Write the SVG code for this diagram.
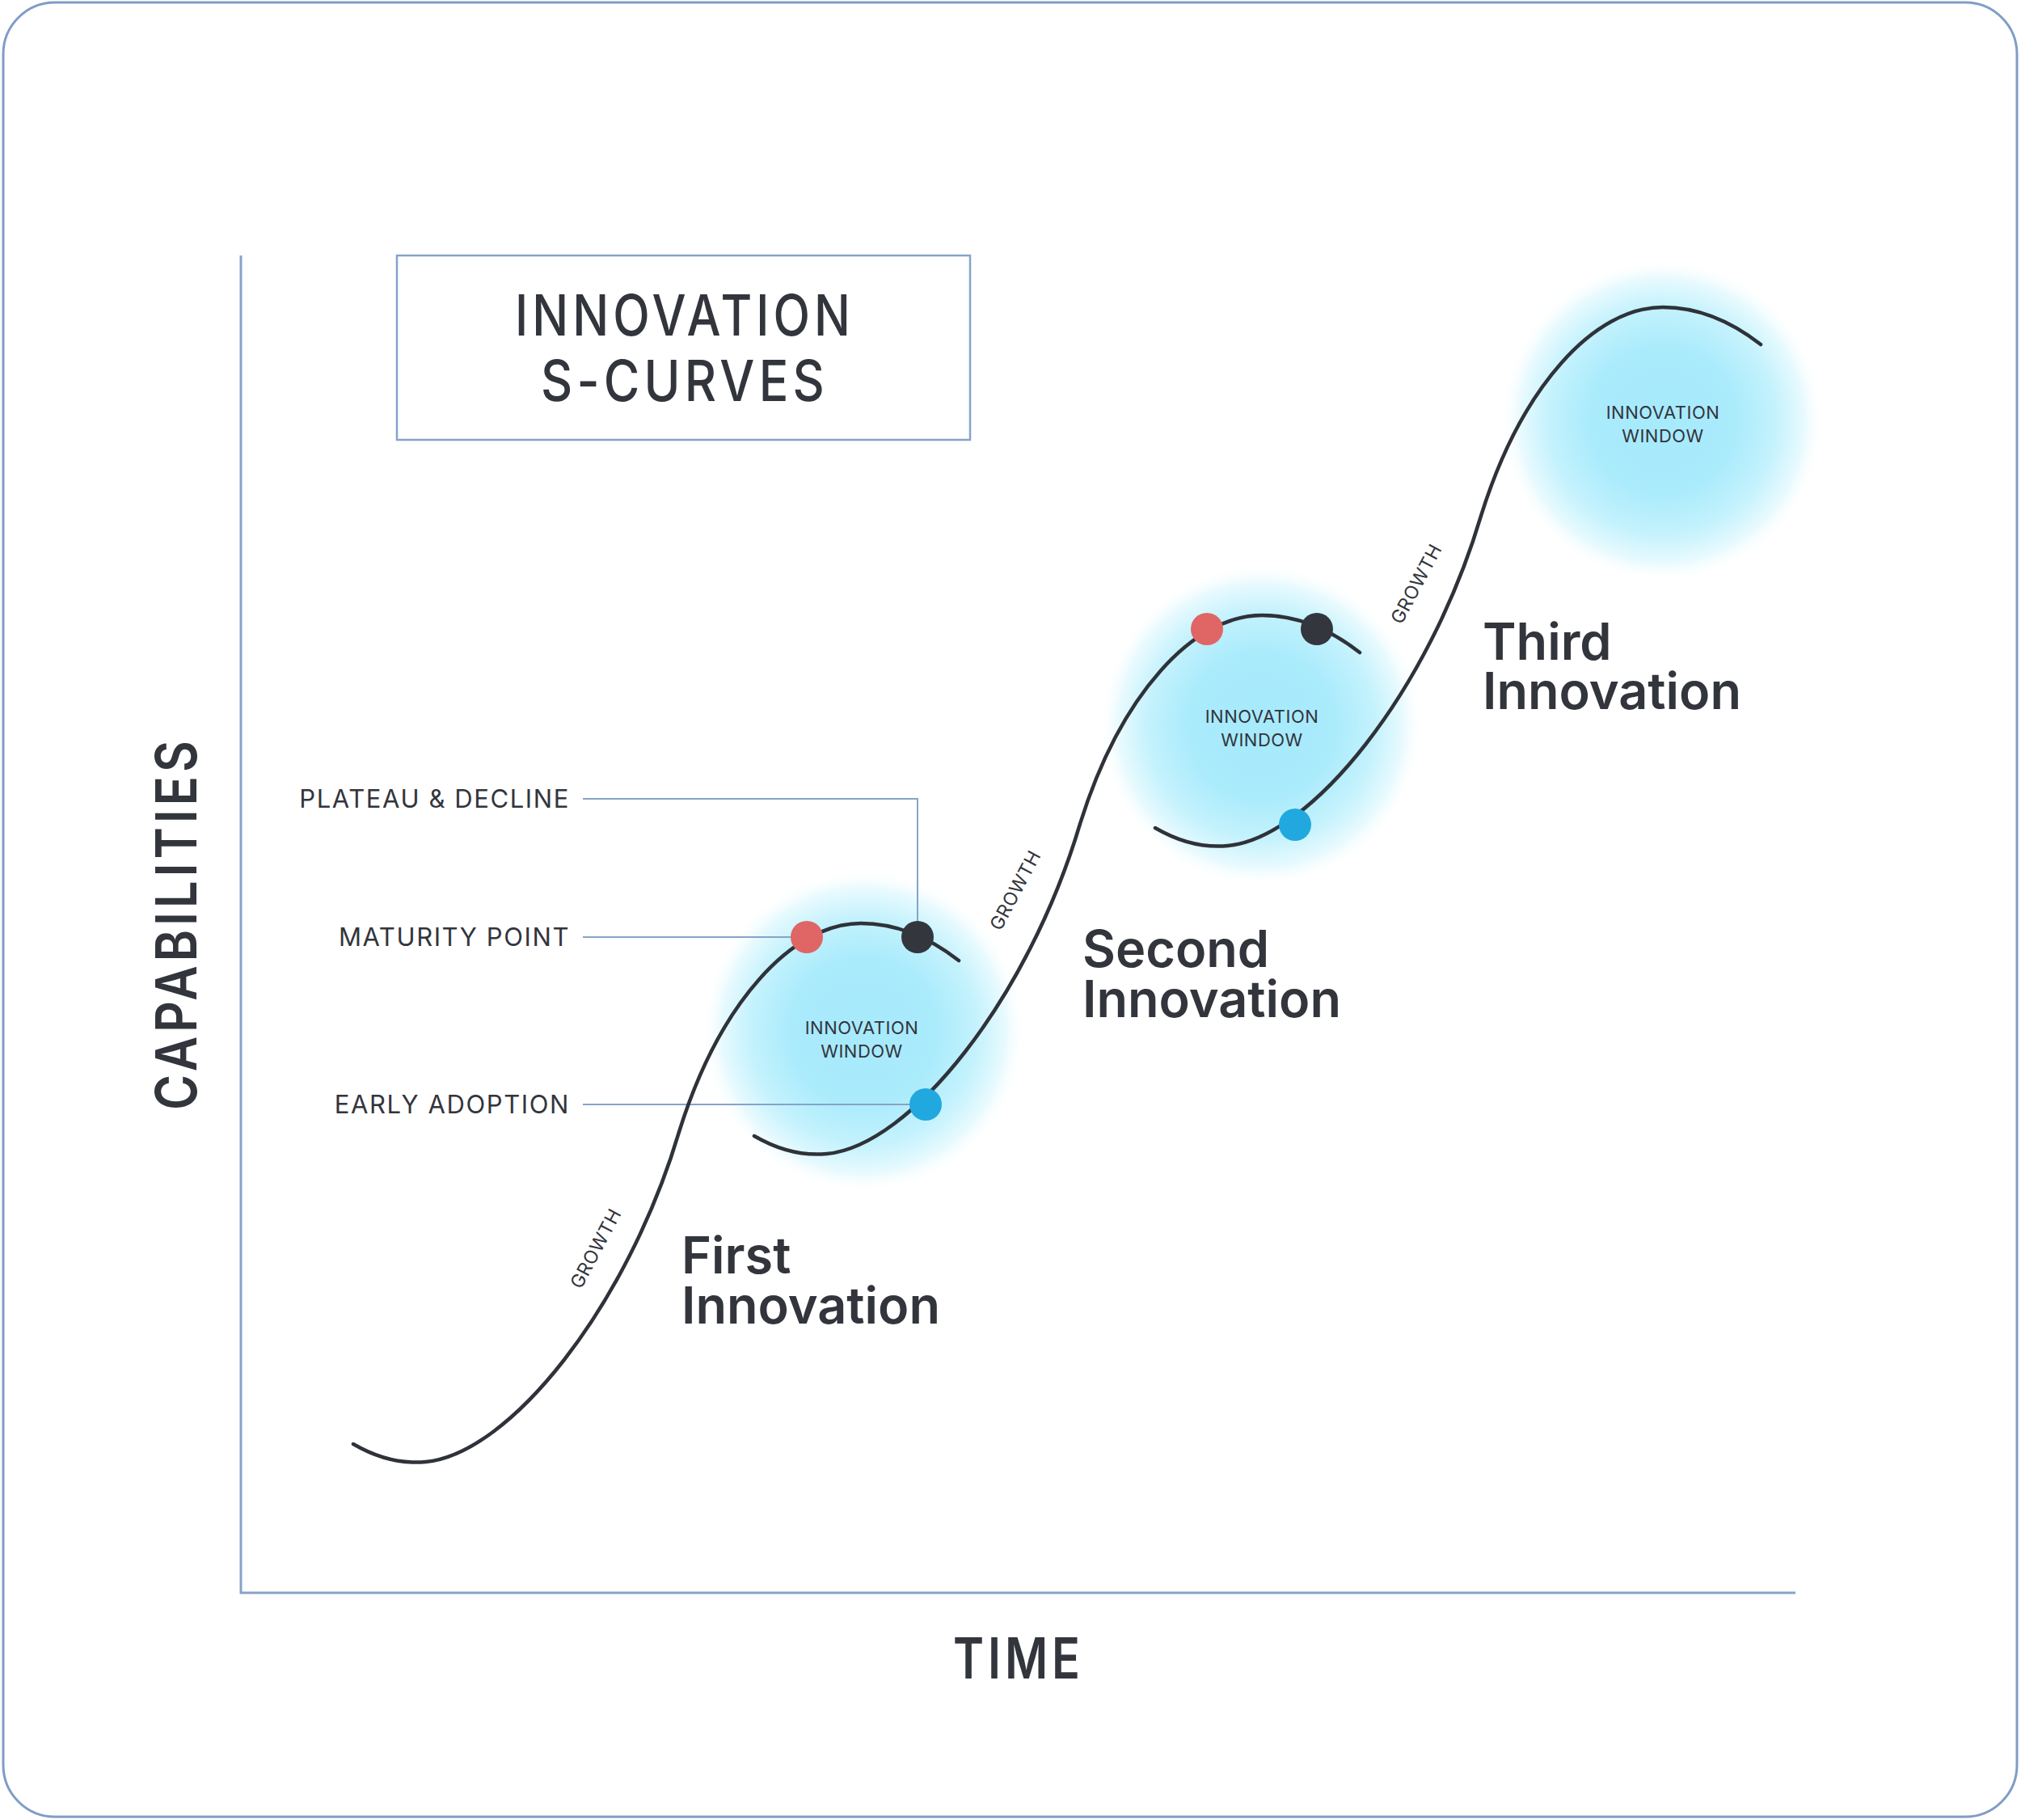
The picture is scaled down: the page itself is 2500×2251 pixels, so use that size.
<svg xmlns="http://www.w3.org/2000/svg" width="2500" height="2251" viewBox="0 0 2500 2251">
  <defs>
    <radialGradient id="glow" cx="0.5" cy="0.5" r="0.5">
      <stop offset="0" stop-color="#a6eafc"/>
      <stop offset="0.45" stop-color="#aaebfc"/>
      <stop offset="0.7" stop-color="#c4f2fd"/>
      <stop offset="0.88" stop-color="#e8fafe"/>
      <stop offset="1" stop-color="#ffffff" stop-opacity="0"/>
    </radialGradient>
    <path id="scurve" d="M437,1786 C468,1804 496,1811 527,1808 C630,1798 775,1618 840,1400 C890,1240 980,1142 1065,1142 C1110,1142 1150,1160 1186,1188"/>
  </defs>
  <style>
    .frame { fill: #ffffff; stroke: #7f9dc6; stroke-width: 3; }
    .axis { fill: none; stroke: #86a3ca; stroke-width: 3; }
    .leader { fill: none; stroke: #86a3ca; stroke-width: 2; }
    .curve { fill: none; stroke: #2f3239; stroke-width: 4.5; stroke-linecap: round; }
    .txt { fill: #32353c; font-family: Inter, "Liberation Sans", sans-serif; }
    .title { font-size: 70px; font-weight: 500; letter-spacing: 6px; text-anchor: middle; }
    .axislbl { font-size: 70px; font-weight: 600; letter-spacing: 6px; text-anchor: middle; }
    .side { font-size: 31px; font-weight: 400; letter-spacing: 1.6px; text-anchor: end; }
    .win { font-size: 22px; font-weight: 400; letter-spacing: 0.5px; text-anchor: middle; }
    .growth { font-size: 23px; font-weight: 400; letter-spacing: 0.6px; text-anchor: middle; }
    .inno { font-size: 63px; font-weight: 600; }
    .red { fill: #e06565; }
    .dark { fill: #33363d; }
    .blue { fill: #21a9df; }
  </style>

  <g id="frame">
    <rect class="frame" x="4" y="3" width="2491" height="2244" rx="64" ry="64"/>
  </g>

  <g id="axes">
    <polyline class="axis" points="298,316 298,1970 2221,1970"/>
  </g>

  <g id="title">
    <rect x="491" y="316" width="709" height="228" fill="none" stroke="#86a3ca" stroke-width="2.5"/>
    <text class="txt title" x="847" y="415" textLength="420" lengthAdjust="spacingAndGlyphs">INNOVATION</text>
    <text class="txt title" x="847" y="496" textLength="356" lengthAdjust="spacingAndGlyphs">S-CURVES</text>
  </g>

  <g id="axis-labels">
    <text class="txt axislbl" x="1260" y="2076" textLength="162" lengthAdjust="spacingAndGlyphs">TIME</text>
    <text class="txt axislbl" transform="translate(243,1142) rotate(-90)" x="0" y="0" textLength="462" lengthAdjust="spacingAndGlyphs">CAPABILITIES</text>
  </g>

  <g id="windows">
    <circle cx="1068" cy="1275" r="200" fill="url(#glow)"/>
    <circle cx="1560" cy="897" r="200" fill="url(#glow)"/>
    <circle cx="2056" cy="520" r="200" fill="url(#glow)"/>
  </g>

  <g id="connectors">
    <polyline class="leader" points="721,988 1135,988 1135,1159"/>
    <line class="leader" x1="721" y1="1159" x2="998" y2="1159"/>
    <line class="leader" x1="721" y1="1366" x2="1145" y2="1366"/>
  </g>

  <g id="curves">
    <use id="curve-1" href="#scurve" class="curve"/>
    <use id="curve-2" href="#scurve" class="curve" transform="translate(496,-381)"/>
    <use id="curve-3" href="#scurve" class="curve" transform="translate(992,-762)"/>
  </g>

  <g id="window-1">
    <text class="txt win" x="1066" y="1279">INNOVATION</text>
    <text class="txt win" x="1066" y="1308">WINDOW</text>
  </g>
  <g id="window-2">
    <text class="txt win" x="1561" y="894">INNOVATION</text>
    <text class="txt win" x="1561" y="923">WINDOW</text>
  </g>
  <g id="window-3">
    <text class="txt win" x="2057" y="518">INNOVATION</text>
    <text class="txt win" x="2057" y="547">WINDOW</text>
  </g>

  <g id="growth-labels">
    <text class="txt growth" transform="translate(744,1548) rotate(-62)">GROWTH</text>
    <text class="txt growth" transform="translate(1263,1105) rotate(-62)">GROWTH</text>
    <text class="txt growth" transform="translate(1759,726) rotate(-62)">GROWTH</text>
  </g>

  <g id="side-labels">
    <text class="txt side" x="705" y="999">PLATEAU &amp; DECLINE</text>
    <text class="txt side" x="705" y="1170">MATURITY POINT</text>
    <text class="txt side" x="705" y="1377">EARLY ADOPTION</text>
  </g>

  <g id="dots-1">
    <circle class="red" cx="998" cy="1159" r="20"/>
    <circle class="dark" cx="1135" cy="1159" r="20"/>
    <circle class="blue" cx="1145" cy="1366" r="20"/>
  </g>
  <g id="dots-2">
    <circle class="red" cx="1493" cy="778" r="20"/>
    <circle class="dark" cx="1629" cy="778" r="20"/>
    <circle class="blue" cx="1602" cy="1020" r="20"/>
  </g>

  <g id="innovation-1">
    <text class="txt inno" x="843" y="1575">First</text>
    <text class="txt inno" x="843" y="1637">Innovation</text>
  </g>
  <g id="innovation-2">
    <text class="txt inno" x="1339" y="1196">Second</text>
    <text class="txt inno" x="1339" y="1258">Innovation</text>
  </g>
  <g id="innovation-3">
    <text class="txt inno" x="1834" y="816">Third</text>
    <text class="txt inno" x="1834" y="877">Innovation</text>
  </g>
</svg>
